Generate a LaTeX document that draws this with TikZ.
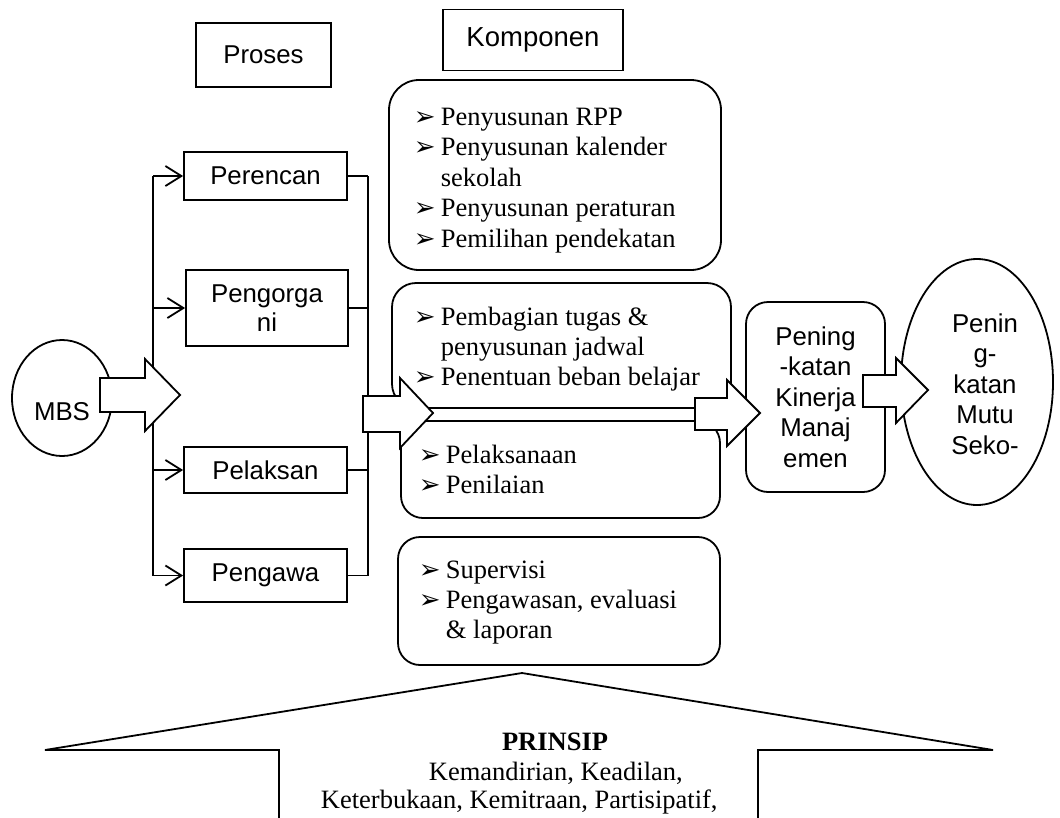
\documentclass[tikz,border=0pt]{standalone}
\usepackage{fontspec}
\setmainfont{Liberation Serif}
\newfontfamily\arialf{Liberation Sans}
\newfontfamily\dejavuf{DejaVu Sans}
\usetikzlibrary{arrows.meta,shapes.geometric}
\newcommand{\bul}{\makebox[27pt][l]{\dejavuf\fontsize{26}{26}\selectfont ➢}}
\newcommand{\ind}{\kern27pt}
\begin{document}
\begin{tikzpicture}[x=1pt,y=-1pt,line width=1.8pt,
  sans/.style={font=\arialf\fontsize{25.8}{29.5}\selectfont},
  pbox/.style={draw,rectangle,inner sep=0pt,sans,align=center},
  ktext/.style={anchor=base west,inner sep=0pt,font=\fontsize{26.5}{30.5}\selectfont},
  barrow/.style={draw,fill=white,line join=miter},
  br/.style={-{Straight Barb[length=16pt,width=20pt]}}
]
\fill[white] (0,0) rectangle (1060,817);
\useasboundingbox (0,0) rectangle (1060,817);

% header boxes
\node[pbox,minimum width=135,minimum height=64] (proses) at (263.5,55) {Proses};
\node[pbox,minimum width=180,minimum height=61,font=\arialf\fontsize{27.5}{30}\selectfont] (komp) at (533,40) {Komponen};

% process boxes
\node[pbox,minimum width=163,minimum height=48] (per) at (265.5,176) {Perencan};
\node[pbox,minimum width=162,minimum height=76] (org) at (267,308) {Pengorga\\ni};
\node[pbox,minimum width=163,minimum height=46] (pel) at (265.5,470) {Pelaksan};
\node[pbox,minimum width=163,minimum height=53] (pw) at (265.5,575.5) {Pengawa};

% MBS
\node[draw,ellipse,inner sep=0pt,minimum width=100,minimum height=116] (mbs) at (62,398) {};
\node[sans,inner sep=0pt] (mbstext) at (62,412) {MBS};

% left tree
\coordinate (trunk) at (153,0);
\draw (trunk |- per.west) -- (trunk |- pw.west);
\draw[br] (trunk |- per.west) -- (per.west);
\draw[br] (trunk |- org.west) -- (org.west);
\draw[br] (trunk |- pel.west) -- (pel.west);
\draw[br] (trunk |- pw.west) -- (pw.west);

% collector line
\coordinate (col) at (368,0);
\draw (per.east) -- (col |- per.east);
\draw (org.east) -- (col |- org.east);
\draw (pel.east) -- (col |- pel.east);
\draw (pw.east) -- (col |- pw.east) -- (col |- per.east);

% component boxes
\draw[rounded corners=30] (389,80) rectangle (721,270);
\draw[rounded corners=24] (392,283) rectangle (731,408);
\draw[rounded corners=22] (401,421) rectangle (720,518);
\draw[rounded corners=22] (398,537) rectangle (720,665);

\node[ktext] (k1t) at (413,125) {\vtop{\baselineskip=30.5pt
  \hbox{\bul Penyusunan RPP}
  \hbox{\bul Penyusunan kalender}
  \hbox{\ind sekolah}
  \hbox{\bul Penyusunan peraturan}
  \hbox{\bul Pemilihan pendekatan}}};
\node[ktext] (k2t) at (413,325) {\vtop{\baselineskip=30pt
  \hbox{\bul Pembagian tugas \&}
  \hbox{\ind penyusunan jadwal}
  \hbox{\bul Penentuan beban belajar}}};
\node[ktext] (k3t) at (418,463) {\vtop{\baselineskip=30pt
  \hbox{\bul Pelaksanaan}
  \hbox{\bul Penilaian}}};
\node[ktext] (k4t) at (418,578) {\vtop{\baselineskip=30pt
  \hbox{\bul Supervisi}
  \hbox{\bul Pengawasan, evaluasi}
  \hbox{\ind \& laporan}}};

% Kinerja box and Mutu ellipse
\node[draw,rectangle,rounded corners=22,inner sep=0pt,minimum width=139,minimum height=190,align=center,font=\arialf\fontsize{25.8}{30.5}\selectfont] (kin) at (815.5,397) {Pening\\-katan\\Kinerja\\Manaj\\emen};
\node[draw,ellipse,inner sep=0pt,minimum width=152,minimum height=246] (mutu) at (977,382) {};
\node[align=center,inner sep=0pt,font=\arialf\fontsize{25.8}{30.5}\selectfont] (mututext) at (985,384) {Penin\\g-\\katan\\Mutu\\Seko-};

% block arrows
\draw[barrow] (100,378) -- (145,378) -- (145,359) -- (180,395) -- (145,431) -- (145,412) -- (100,412) -- cycle;
\draw[barrow] (363,396) -- (400,396) -- (400,378) -- (433,413) -- (400,448) -- (400,432) -- (363,432) -- cycle;
\draw[barrow] (695,398) -- (727,398) -- (727,380) -- (760,413) -- (727,446) -- (727,430) -- (695,430) -- cycle;
\draw[barrow] (863,375) -- (896,375) -- (896,358) -- (928,390) -- (896,423) -- (896,407) -- (863,407) -- cycle;

% principle arrow
\draw[line join=miter] (279,830) -- (279,750) -- (45,750) -- (522,673) -- (993,750) -- (758,750) -- (758,830);
\node[anchor=base,inner sep=0pt,font=\bfseries\fontsize{26.5}{30}\selectfont] (prinsip) at (555,750) {PRINSIP};
\node[anchor=base west,inner sep=0pt,font=\fontsize{26.5}{30}\selectfont] (pr1) at (428,780) {Kemandirian, Keadilan,};
\node[anchor=base west,inner sep=0pt,font=\fontsize{26.5}{30}\selectfont] (pr2) at (320,808) {Keterbukaan, Kemitraan, Partisipatif,};
\end{tikzpicture}
\end{document}
